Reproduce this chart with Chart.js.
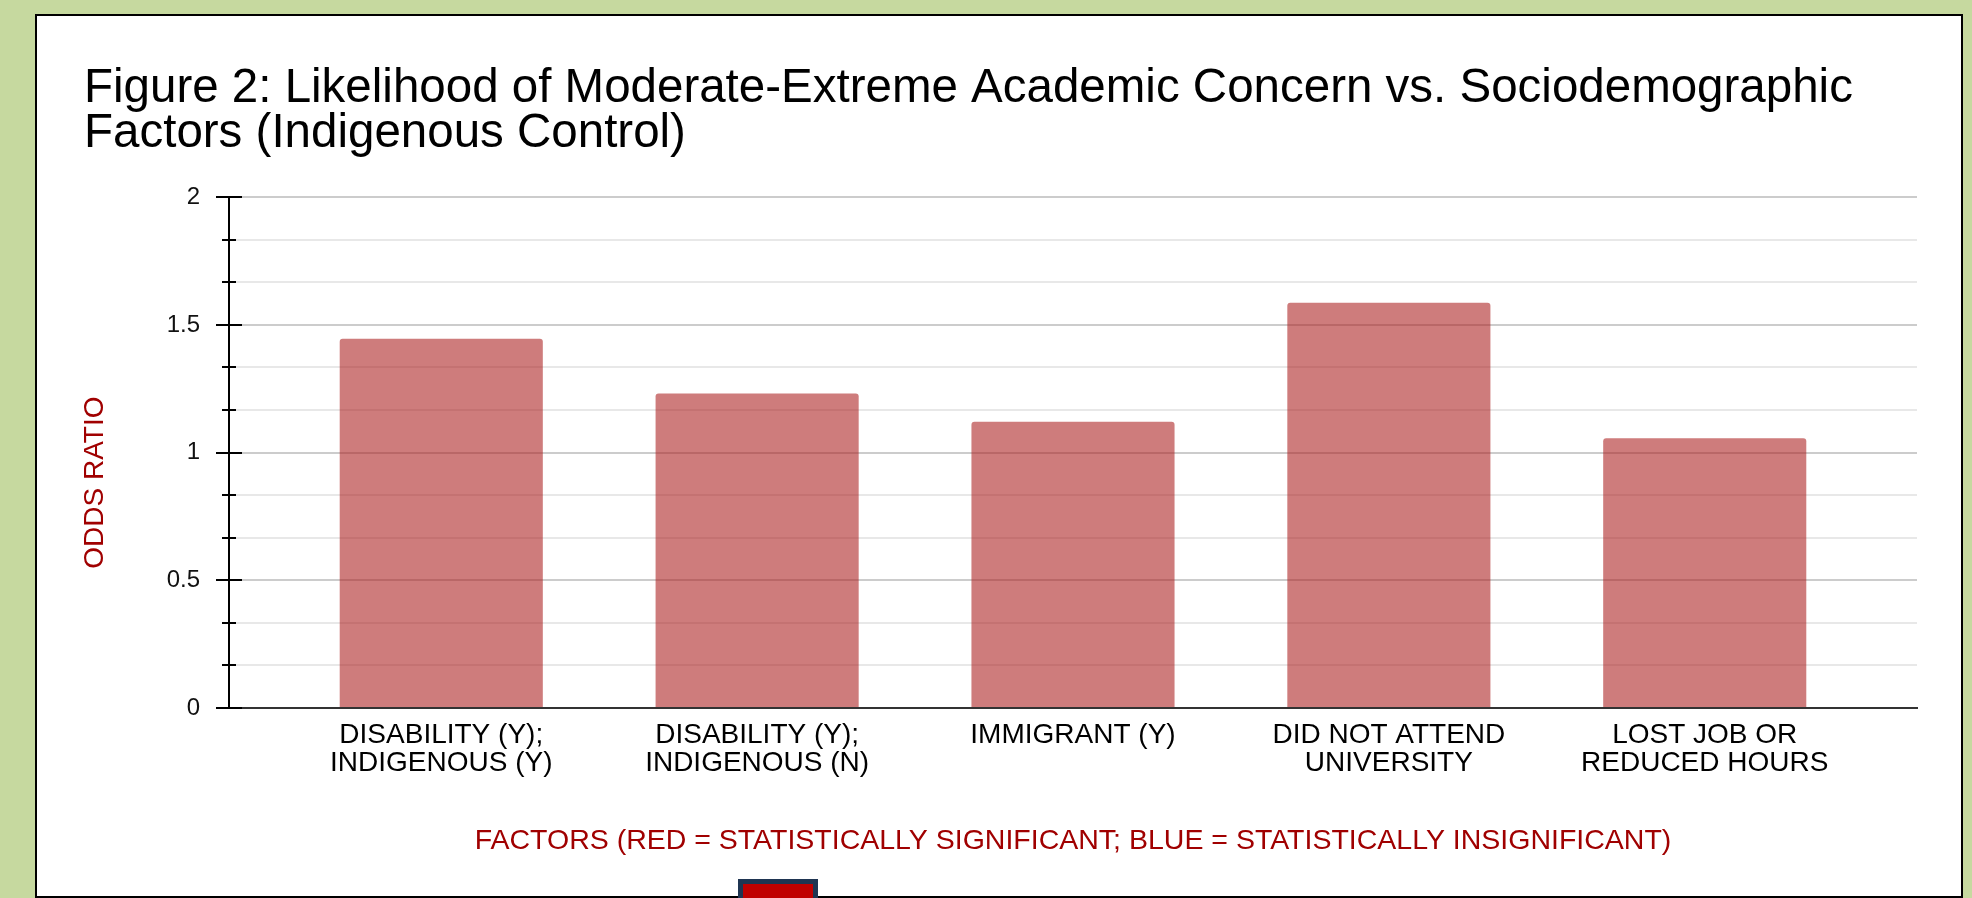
<!DOCTYPE html>
<html>
<head>
<meta charset="utf-8">
<title>Figure 2</title>
<script src="https://cdn.jsdelivr.net/npm/chart.js@4.4.1/dist/chart.umd.min.js"></script>
<style>
  html, body { margin: 0; padding: 0; }
  body {
    width: 1972px; height: 898px; overflow: hidden; position: relative;
    background: #c6d99f;
    font-family: 'Liberation Sans', Arial, sans-serif;
  }
  #card {
    position: absolute; left: 35px; top: 14px; width: 1928px; height: 884px;
    background: #fff; border: 2px solid #000; box-sizing: border-box;
  }
  #wrap { position: absolute; left: 0; top: 0; width: 1972px; height: 898px; }
  #badge {
    position: absolute; left: 738px; top: 879px; width: 80px; height: 40px;
    background: #c00000; border: 5px solid #1f3552; box-sizing: border-box;
  }
</style>
</head>
<body>
<div id="card"></div>
<div id="wrap"><canvas id="chart"></canvas></div>
<div id="badge"></div>
<script>
const titleLines = [
  'Figure 2: Likelihood of Moderate-Extreme Academic Concern vs. Sociodemographic',
  'Factors (Indigenous Control)'
];
const categories = [
  ['DISABILITY (Y);', 'INDIGENOUS (Y)'],
  ['DISABILITY (Y);', 'INDIGENOUS (N)'],
  ['IMMIGRANT (Y)'],
  ['DID NOT ATTEND', 'UNIVERSITY'],
  ['LOST JOB OR', 'REDUCED HOURS']
];
const oddsRatios = [1.446, 1.231, 1.121, 1.587, 1.056];
const yMajorTicks = [0, 0.5, 1, 1.5, 2];
const yMinorPerStep = 2;
const xTitle = 'FACTORS (RED = STATISTICALLY SIGNIFICANT; BLUE = STATISTICALLY INSIGNIFICANT)';
const yTitle = 'ODDS RATIO';

const red = '#a00000';

// major ticks plus the minor ones between them
const yTickValues = [];
yMajorTicks.forEach((m, i) => {
  yTickValues.push(m);
  const next = yMajorTicks[i + 1];
  if (next === undefined) return;
  for (let k = 1; k <= yMinorPerStep; k++) {
    yTickValues.push(m + (next - m) * k / (yMinorPerStep + 1));
  }
});
const isMajor = v => yMajorTicks.some(m => Math.abs(m - v) < 1e-9);

Chart.defaults.font.family = "'Liberation Sans', Arial, sans-serif";

// tick marks that cross the y axis line
const axisTicks = {
  id: 'axisTicks',
  afterDraw(chart) {
    const { ctx, chartArea, scales } = chart;
    const x0 = chartArea.left;
    ctx.save();
    ctx.strokeStyle = '#000';
    ctx.lineWidth = 2;
    scales.y.ticks.forEach(t => {
      const py = Math.round(scales.y.getPixelForValue(t.value));
      const len = isMajor(t.value) ? 13 : 7;
      ctx.beginPath();
      ctx.moveTo(x0 - len, py);
      ctx.lineTo(x0 + len, py);
      ctx.stroke();
    });
    ctx.restore();
  }
};

// y title sits a bit lower than the plot centre
const yTitlePlugin = {
  id: 'yTitle',
  afterDraw(chart) {
    const { ctx, chartArea, scales } = chart;
    ctx.save();
    ctx.translate(scales.y.left + 11, (chartArea.top + chartArea.bottom) / 2 + 30);
    ctx.rotate(-Math.PI / 2);
    ctx.fillStyle = red;
    ctx.font = "28px 'Liberation Sans', Arial, sans-serif";
    ctx.textAlign = 'center';
    ctx.textBaseline = 'middle';
    ctx.fillText(yTitle, 0, 0);
    ctx.restore();
  }
};

new Chart(document.getElementById('chart'), {
  type: 'bar',
  data: {
    datasets: [{
      data: oddsRatios.map((v, i) => ({ x: i, y: v })),
      backgroundColor: 'rgba(170, 30, 30, 0.58)',
      borderWidth: 0,
      borderRadius: 3,
      barPercentage: 0.643,
      categoryPercentage: 1
    }]
  },
  options: {
    responsive: true,
    maintainAspectRatio: false,
    animation: false,
    layout: { padding: { left: 84, right: 55, top: 50, bottom: 0 } },
    plugins: {
      legend: { display: false },
      tooltip: { enabled: false },
      title: {
        display: true,
        text: titleLines,
        align: 'start',
        color: '#000',
        font: { size: 47.5, weight: 'normal', lineHeight: 0.96 },
        padding: { top: 16, bottom: 40 }
      }
    },
    scales: {
      x: {
        type: 'linear',
        min: -0.672,
        max: 4.672,
        offset: false,
        grid: { color: 'rgba(0,0,0,0)', drawTicks: false, offset: false },
        border: { color: '#333', width: 2 },
        afterBuildTicks: s => { s.ticks = categories.map((c, i) => ({ value: i })); },
        afterFit: s => { s.height = 190; },
        ticks: {
          callback: v => categories[v],
          color: '#000',
          font: { size: 28, lineHeight: 0.98 },
          padding: 14,
          maxRotation: 0,
          autoSkip: false
        },
        title: {
          display: true,
          text: xTitle,
          color: red,
          font: { size: 28.5 },
          padding: { top: 0, bottom: 40 }
        }
      },
      y: {
        min: 0,
        max: 2,
        afterBuildTicks: s => { s.ticks = yTickValues.map(v => ({ value: v })); },
        afterFit: s => { s.width = 145; },
        grid: {
          drawTicks: false,
          lineWidth: 2,
          color: c => isMajor(c.tick.value) ? '#cccccc' : '#e8e8e8'
        },
        border: { color: '#000', width: 2 },
        ticks: {
          callback: v => isMajor(v) ? String(v) : '',
          color: '#111',
          font: { size: 24 },
          padding: 29,
          autoSkip: false
        }
      }
    }
  },
  plugins: [axisTicks, yTitlePlugin]
});
</script>
</body>
</html>
